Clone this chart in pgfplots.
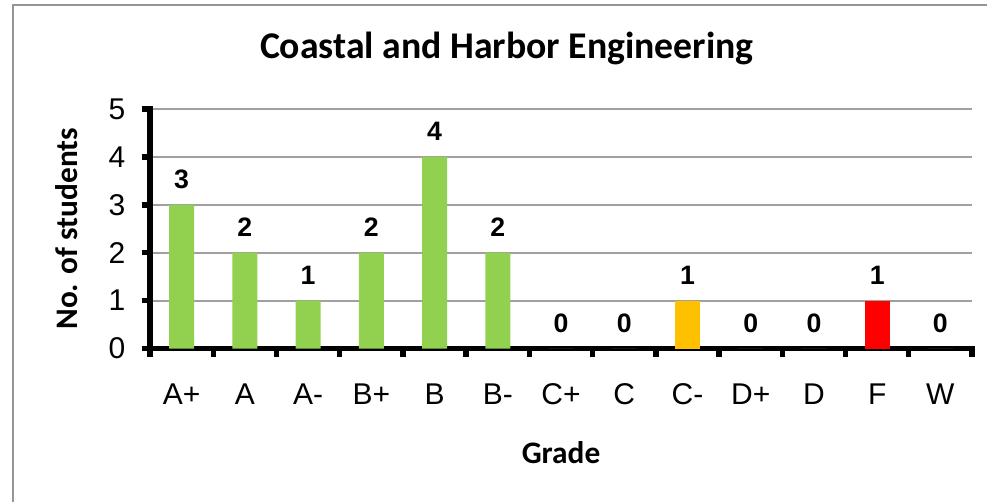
\documentclass[border=0pt]{standalone}
\usepackage{pgfplots}
\pgfplotsset{compat=1.18}
\usepackage{fontspec}
\setmainfont{Liberation Sans}
\newfontfamily\calibri{Carlito}
\definecolor{bargreen}{HTML}{92D050}
\definecolor{barorange}{HTML}{FFC000}
\definecolor{barred}{HTML}{FF0000}
\definecolor{framegray}{RGB}{150,150,150}
\definecolor{gridgray}{RGB}{160,160,160}
\begin{document}
\begin{tikzpicture}
\path[use as bounding box] (0,0) rectangle (740.25pt,376.5pt);
\draw[framegray, line width=1.6pt] (9.75pt,-5pt) -- (9.75pt,372.75pt) -- (745pt,372.75pt);
\begin{axis}[
  at={(112.5pt,115.1pt)}, anchor=south west,
  scale only axis, width=616.5pt, height=179.6pt,
  xmin=-0.5, xmax=12.5, ymin=0, ymax=5,
  axis lines=left,
  axis line style={-, black, line width=4pt, line cap=rect},
  xtick={0,...,12},
  xticklabels={A+,A,A-,B+,B,B-,C+,C,C-,D+,D,F,W},
  minor xtick={-0.5,0.5,...,12.5},
  ytick={0,1,2,3,4,5},
  tick align=outside,
  major x tick style={draw=none},
  major tick length=6.3pt, minor tick length=6.3pt,
  minor x tick style={black, line width=4pt},
  y tick style={black, line width=4pt},
  ymajorgrids,
  grid style={gridgray, line width=1.3pt},
  /pgf/number format/assume math mode=true,
  ticklabel style={font=\fontsize{22.5}{27}\selectfont},
  yticklabel style={anchor=east, inner sep=0pt, xshift=-12pt},
  xticklabel style={anchor=base, inner sep=0pt, yshift=-36pt},
  title={Coastal and Harbor Engineering},
  every axis title shift=0pt,
  title style={font=\calibri\bfseries\fontsize{28.3}{33}\selectfont, at={(axis description cs:0.434,1.213)}, anchor=base, inner sep=0pt},
  xlabel={Grade},
  xlabel style={font=\calibri\bfseries\fontsize{23.5}{28}\selectfont, at={(axis description cs:0.5,-0.482)}, anchor=base, inner sep=0pt},
  ylabel={No. of students},
  ylabel style={font=\calibri\bfseries\fontsize{23.5}{28}\selectfont, at={(axis description cs:-0.0888,0.5)}, anchor=base, inner sep=0pt},
  ybar, bar width=18.75pt, bar shift=0pt,
  nodes near coords,
  every node near coord/.style={font=\bfseries\fontsize{20}{24}\selectfont, anchor=south, inner sep=0pt, yshift=12pt, /pgf/number format/assume math mode=true},
  clip=false,
]
\addplot[fill=bargreen, draw=none] coordinates {(0,3) (1,2) (2,1) (3,2) (4,4) (5,2) (6,0) (7,0) (9,0) (10,0) (12,0)};
\addplot[fill=barorange, draw=none] coordinates {(8,1)};
\addplot[fill=barred, draw=none] coordinates {(11,1)};
\end{axis}
\end{tikzpicture}
\end{document}
